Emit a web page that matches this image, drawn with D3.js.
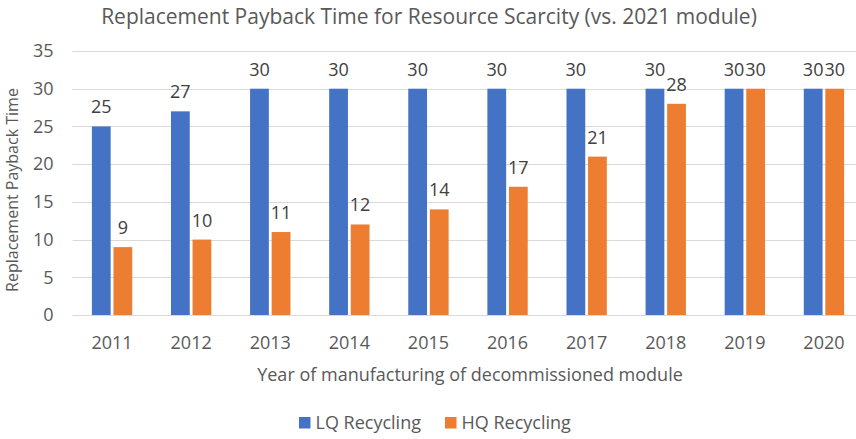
<!DOCTYPE html>
<html>
<head>
<meta charset="utf-8">
<script src="https://cdn.jsdelivr.net/npm/d3@7"></script>
<style>
  html, body { margin: 0; padding: 0; background: #fff; }
  svg { display: block; font-family: "Open Sans", "Noto Sans", sans-serif; }
</style>
</head>
<body>
<svg id="chart" width="856" height="439"></svg>
<script>
// Years of manufacturing and payback times (years) per recycling route
const years = ["2011", "2012", "2013", "2014", "2015", "2016", "2017", "2018", "2019", "2020"];
const lqRecycling = [25, 27, 30, 30, 30, 30, 30, 30, 30, 30];
const hqRecycling = [9, 10, 11, 12, 14, 17, 21, 28, 30, 30];
const seriesNames = ["LQ Recycling", "HQ Recycling"];
const seriesColors = ["#4472C4", "#ED7D31"];
const yTicks = [0, 5, 10, 15, 20, 25, 30, 35];

const series = [lqRecycling, hqRecycling];

const svg = d3.select("#chart");
const W = 856, H = 439;
const margin = { left: 72.5, right: -7.5, top: 51, bottom: 124 };
const plotW = W - margin.left - margin.right;
const plotH = H - margin.top - margin.bottom;

const g = svg.append("g").attr("transform", `translate(${margin.left},${margin.top})`);

const x0 = d3.scaleBand().domain(years).range([0, plotW]).paddingInner(0).paddingOuter(0);
const x1 = d3.scaleBand().domain(d3.range(series.length)).range([x0.bandwidth() * 0.245, x0.bandwidth() * 0.755]).paddingInner(0.13);
const y = d3.scaleLinear().domain([0, 35]).range([plotH, 0]);

// Horizontal gridlines
g.append("g")
  .selectAll("line")
  .data(yTicks)
  .join("line")
  .attr("x1", 0)
  .attr("x2", W - margin.left)
  .attr("y1", d => Math.round(y(d)) + 0.5)
  .attr("y2", d => Math.round(y(d)) + 0.5)
  .attr("stroke", "#d9d9d9")
  .attr("stroke-width", 1);

// Y axis tick labels
const yAxis = d3.axisLeft(y).tickValues(yTicks).tickSize(0).tickPadding(0);
g.append("g")
  .attr("transform", "translate(-19,0)")
  .call(yAxis)
  .call(s => s.select(".domain").remove())
  .call(s => s.selectAll("text")
    .attr("fill", "#595959")
    .style("font-size", "18px")
    .style("font-family", "'Open Sans', sans-serif"));

// X axis tick labels
const xAxis = d3.axisBottom(x0).tickSize(0).tickPadding(0);
g.append("g")
  .attr("transform", `translate(0,${plotH + 21})`)
  .call(xAxis)
  .call(s => s.select(".domain").remove())
  .call(s => s.selectAll("text")
    .attr("fill", "#595959")
    .style("font-size", "18px")
    .style("font-family", "'Open Sans', sans-serif"));

// Bars
const groups = g.append("g")
  .selectAll("g")
  .data(years)
  .join("g")
  .attr("transform", d => `translate(${x0(d)},0)`);

groups.selectAll("rect")
  .data((d, i) => series.map((s, k) => ({ k, v: s[i] })))
  .join("rect")
  .attr("x", d => x1(d.k))
  .attr("width", x1.bandwidth())
  .attr("y", d => y(d.v))
  .attr("height", d => plotH - y(d.v))
  .attr("fill", d => seriesColors[d.k]);

// Value labels above bars
groups.selectAll("text.val")
  .data((d, i) => series.map((s, k) => ({ k, v: s[i] })))
  .join("text")
  .attr("class", "val")
  .attr("x", d => x1(d.k) + x1.bandwidth() / 2)
  .attr("y", d => y(d.v) - 13)
  .attr("text-anchor", "middle")
  .attr("fill", "#404040")
  .style("font-size", "18px")
  .text(d => d.v);

// Title
svg.append("text")
  .attr("x", 429)
  .attr("y", 24)
  .attr("text-anchor", "middle")
  .attr("fill", "#595959")
  .style("font-size", "21px")
  .text("Replacement Payback Time for Resource Scarcity (vs. 2021 module)");

// Axis titles
svg.append("text")
  .attr("x", 470)
  .attr("y", 381)
  .attr("text-anchor", "middle")
  .attr("fill", "#595959")
  .style("font-size", "18px")
  .text("Year of manufacturing of decommissioned module");

svg.append("text")
  .attr("transform", "translate(18,190) rotate(-90)")
  .attr("text-anchor", "middle")
  .attr("fill", "#595959")
  .style("font-size", "16px")
  .text("Replacement Payback Time");

// Legend
const legend = svg.append("g").attr("transform", "translate(299,417)");
const legendX = [0, 146];
seriesNames.forEach((name, k) => {
  const item = legend.append("g").attr("transform", `translate(${legendX[k]},0)`);
  item.append("rect").attr("width", 11.5).attr("height", 11.5).attr("fill", seriesColors[k]);
  item.append("text")
    .attr("x", 16.5)
    .attr("y", 12)
    .attr("fill", "#595959")
    .style("font-size", "18px")
    .text(name);
});
</script>
</body>
</html>
